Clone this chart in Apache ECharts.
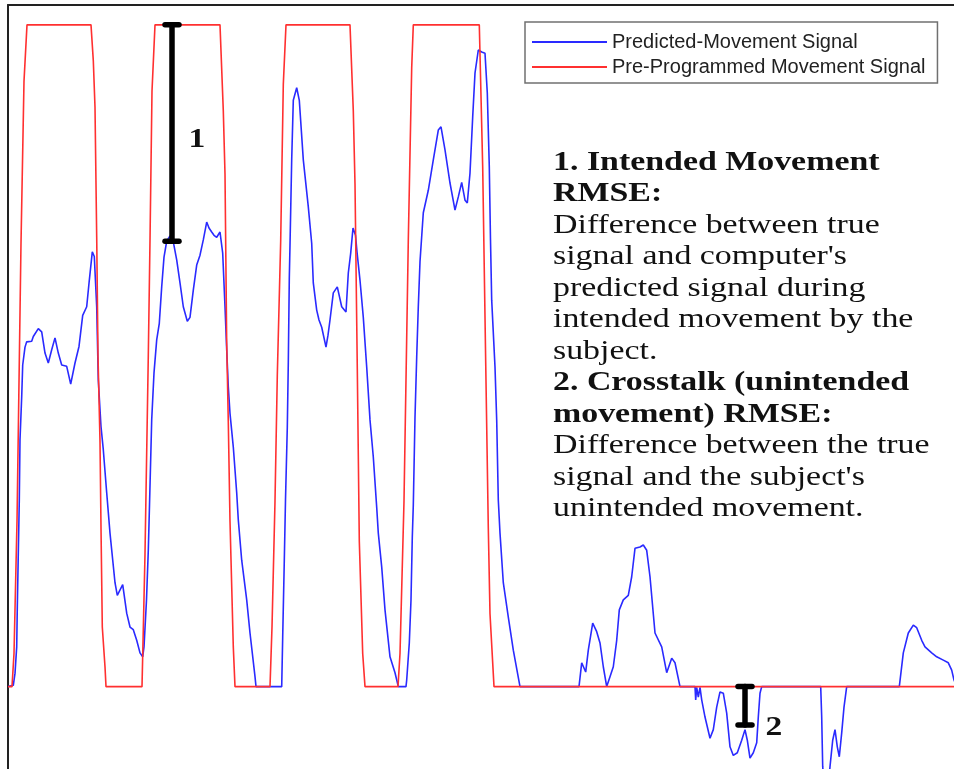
<!DOCTYPE html>
<html>
<head>
<meta charset="utf-8">
<script src="https://cdn.jsdelivr.net/npm/echarts@6/dist/echarts.min.js"></script>
<style>
  html, body { margin: 0; padding: 0; background: #fff; }
  #chart { width: 954px; height: 769px; }
</style>
</head>
<body>
<div id="chart"></div>
<script>
// ---- Data (time in samples, amplitude normalised: 0 = rest, 1 = full movement) ----
const seriesNames = ['Predicted-Movement Signal', 'Pre-Programmed Movement Signal'];

const predT = [0, 5.3, 7, 8.7, 9.3, 10.3, 11.3, 12, 13.7, 14.7, 17, 18.7, 23.7, 25.3, 30.3, 33.7, 37, 40.3, 43.7, 47,
  50.3, 53.7, 58.7, 62.7, 67, 71, 74.7, 78.7, 81.3, 84.3, 86.3, 88.7, 90.3, 93, 95.3, 98.7, 102, 107, 109.3, 114.7,
  118.7, 122, 125.3, 128.7, 132, 134.7, 136, 138.5, 140.3, 141.5, 143.7, 146, 148.7, 151.3, 153.7, 156, 158.7, 162, 165.3, 168.7,
  172, 175.3, 179.3, 182, 185.3, 188.7, 192, 195.3, 198.7, 201, 203.7, 206, 208.7, 212, 214.7, 217, 218.7, 220.3, 222, 225.3,
  228.7, 230.3, 233.7, 238.7, 242, 247, 248, 273.7, 274.7, 276.3, 277.5, 279.3, 280.3, 281.3, 282, 283.7, 285.3, 288.7, 291.3, 295.3,
  300.3, 303.7, 305.3, 308.7, 311, 313.7, 318, 320, 322, 325.3, 329.3, 333.7, 338, 340.3, 342.7, 345, 347.5, 349, 352, 355.3,
  358.7, 362, 365.3, 368.7, 370.3, 373.7, 377, 382, 387, 390.3, 398, 398.7, 401.3, 403, 404.3, 405.3, 407, 408.7, 410.3, 412,
  415.3, 420.3, 425.3, 430.3, 433, 437, 442, 447, 450.3, 453.7, 457, 459.3, 462, 464.7, 467, 470.3, 473.7, 477, 479.3, 481.3,
  482.5, 483.7, 487, 488.7, 490.3, 492, 495.3, 500.3, 505.3, 512, 571, 573.7, 575.3, 577.7, 580.3, 584.7, 588.7, 592, 595.3, 598.7,
  602, 605.3, 608.7, 611.3, 615.3, 620.3, 623.7, 627, 632, 635.3, 638.7, 642, 647, 653.7, 658.7, 663.7, 667, 672, 687, 687.7,
  688.7, 690.3, 692, 693.7, 697, 702, 705.3, 708.7, 712, 715.3, 718.7, 722, 725.3, 729.3, 733.7, 737, 739.3, 742, 745.3, 748.7,
  750.3, 752, 753.7, 812.7, 813.7, 814.7, 817, 820, 822, 824.7, 827, 829.3, 831.3, 833.7, 836, 838.7, 891.3, 895.3, 900.3, 905.3,
  908.7, 913.7, 917, 923.7, 928.7, 935.3, 940.3, 943.7, 946, 949];
const predV = [0, 0.002, 0.02, 0.06, 0.12, 0.202, 0.282, 0.373, 0.438, 0.486, 0.513, 0.521, 0.522, 0.529, 0.541, 0.536, 0.504, 0.489, 0.509, 0.527,
  0.504, 0.486, 0.484, 0.457, 0.489, 0.514, 0.561, 0.574, 0.614, 0.657, 0.650, 0.574, 0.463, 0.393, 0.358, 0.293, 0.232, 0.157, 0.138, 0.154,
  0.111, 0.090, 0.086, 0.070, 0.051, 0.045, 0.060, 0.131, 0.206, 0.274, 0.403, 0.474, 0.524, 0.549, 0.604, 0.649, 0.673, 0.681, 0.672, 0.645,
  0.610, 0.574, 0.552, 0.558, 0.599, 0.637, 0.652, 0.675, 0.702, 0.693, 0.687, 0.682, 0.679, 0.687, 0.655, 0.574, 0.509, 0.453, 0.413, 0.362,
  0.293, 0.252, 0.191, 0.131, 0.081, 0.015, 0, 0, 0.075, 0.191, 0.282, 0.392, 0.489, 0.617, 0.667, 0.796, 0.886, 0.905, 0.886, 0.796,
  0.725, 0.670, 0.610, 0.569, 0.554, 0.543, 0.513, 0.531, 0.554, 0.595, 0.604, 0.574, 0.566, 0.625, 0.655, 0.693, 0.682, 0.657, 0.614, 0.558,
  0.483, 0.403, 0.347, 0.271, 0.232, 0.181, 0.116, 0.045, 0.021, 0, 0, 0.010, 0.066, 0.131, 0.226, 0.274, 0.407, 0.498, 0.574, 0.642,
  0.716, 0.750, 0.796, 0.841, 0.846, 0.811, 0.761, 0.720, 0.740, 0.762, 0.735, 0.731, 0.776, 0.861, 0.927, 0.962, 0.959, 0.957, 0.897, 0.785,
  0.675, 0.584, 0.483, 0.403, 0.282, 0.232, 0.157, 0.105, 0.055, 0, 0, 0.036, 0.036, 0.022, 0.055, 0.096, 0.083, 0.066, 0.030, 0,
  0.015, 0.030, 0.070, 0.116, 0.131, 0.138, 0.166, 0.209, 0.211, 0.214, 0.206, 0.166, 0.081, 0.060, 0.021, 0.043, 0.036, 0, 0, -0.020,
  -0.001, -0.016, -0.001, -0.020, -0.046, -0.078, -0.065, -0.031, -0.008, -0.010, -0.040, -0.091, -0.104, -0.100, -0.081, -0.065, -0.081, -0.108, -0.100, -0.085,
  -0.046, -0.010, 0, 0, -0.046, -0.121, -0.160, -0.158, -0.121, -0.081, -0.065, -0.091, -0.106, -0.070, -0.031, 0, 0, 0.051, 0.081, 0.093,
  0.089, 0.070, 0.060, 0.051, 0.045, 0.040, 0.036, 0.025, 0.010, 0];

const progT = [0, 4, 6, 9, 13, 16, 19, 83, 85.3, 87, 88.7, 90, 92, 93, 94.3, 97, 98,
  134, 137, 140.3, 142, 144, 147, 212, 215.3, 217, 218.7, 220.3, 222, 225.3, 227,
  262, 264, 267, 269.3, 272.7, 275.3, 278, 342, 345.3, 347, 349.3, 351.3, 354.7, 357,
  390, 392, 396, 400.3, 403.7, 405.3, 471.3, 474.7, 477.7, 480.3, 482, 486, 946];
const progV = [0, 0, 0.05, 0.25, 0.67, 0.915, 1, 1, 0.946, 0.876, 0.68, 0.5, 0.37, 0.24, 0.09, 0.03, 0,
  0, 0.2, 0.5, 0.674, 0.9, 1, 1, 0.87, 0.775, 0.52, 0.4, 0.25, 0.06, 0,
  0, 0.09, 0.28, 0.47, 0.674, 0.91, 1, 1, 0.87, 0.76, 0.48, 0.22, 0.05, 0,
  0, 0.05, 0.28, 0.674, 0.935, 1, 1, 0.785, 0.49, 0.24, 0.11, 0, 0];

// RMSE annotation bars
const errX = [164, 737];
const errHigh = [1, 0];
const errLow = [0.673, -0.058];
const errLabels = ['1', '2'];
const errLabelX = [189, 766];
const errLabelY = [0.827, -0.062];

// Explanatory text
const noteLines = [
  ['1. Intended Movement', true],
  ['RMSE:', true],
  ['Difference between true', false],
  ["signal and computer's", false],
  ['predicted signal during', false],
  ['intended movement by the', false],
  ['subject.', false],
  ['2. Crosstalk (unintended', true],
  ['movement) RMSE:', true],
  ['Difference between the true', false],
  ["signal and the subject's", false],
  ['unintended movement.', false]
];

// ---- Chart ----
const SERIF = '"Liberation Serif", "Times New Roman", serif';
const SANS = '"Liberation Sans", Arial, sans-serif';
const chart = echarts.init(document.getElementById('chart'), null, { renderer: 'canvas' });

const noteGraphics = noteLines.map(function (l, i) {
  return {
    type: 'text',
    x: 553,
    y: 162.5 + 31.5 * i,
    scaleX: 1.21,
    z: 10,
    style: {
      text: l[0],
      x: 0, y: 0,
      fill: '#111',
      font: (l[1] ? 'bold ' : '') + '28px ' + SERIF,
      textAlign: 'left',
      textVerticalAlign: 'middle'
    }
  };
});

const errData = errX.map(function (x, i) { return [x, errHigh[i], errLow[i], errLabelX[i], errLabelY[i]]; });

const frameLine = { show: true, onZero: false, lineStyle: { color: '#222', width: 2 } };

chart.setOption({
  animation: false,
  backgroundColor: '#fff',
  grid: { left: 8, top: 5, right: 0, bottom: 0, show: false },
  xAxis: {
    type: 'value', min: 0, max: 946, position: 'top',
    axisLine: frameLine, axisTick: { show: false }, axisLabel: { show: false }, splitLine: { show: false }
  },
  yAxis: {
    type: 'value', min: -0.1245, max: 1.03, position: 'left',
    axisLine: frameLine, axisTick: { show: false }, axisLabel: { show: false }, splitLine: { show: false }
  },
  legend: {
    data: seriesNames,
    orient: 'vertical',
    left: 525, top: 22,
    itemWidth: 75, itemHeight: 2, itemGap: 5,
    icon: 'rect',
    padding: [10, 12, 6, 7],
    borderColor: '#707070', borderWidth: 1.5,
    backgroundColor: '#fff',
    selectedMode: false,
    textStyle: { fontFamily: SANS, fontSize: 20, color: '#222', lineHeight: 20 }
  },
  graphic: noteGraphics,
  series: [
    {
      name: seriesNames[0], type: 'line',
      data: predT.map(function (t, i) { return [t, predV[i]]; }),
      showSymbol: false, symbol: 'none',
      color: '#2a2aff',
      lineStyle: { width: 1.6, color: '#2a2aff' },
      z: 2
    },
    {
      name: seriesNames[1], type: 'line',
      data: progT.map(function (t, i) { return [t, progV[i]]; }),
      showSymbol: false, symbol: 'none',
      color: '#ff3030',
      lineStyle: { width: 1.6, color: '#ff3030' },
      z: 3
    },
    {
      name: 'RMSE bars', type: 'custom', z: 5,
      data: errData,
      renderItem: function (params, api) {
        const x = api.value(0);
        const p1 = api.coord([x, api.value(1)]);
        const p2 = api.coord([x, api.value(2)]);
        const pl = api.coord([api.value(3), api.value(4)]);
        const cap = 7;
        const st = { stroke: '#000', lineWidth: 5.5, lineCap: 'round' };
        return {
          type: 'group',
          children: [
            { type: 'line', shape: { x1: p1[0], y1: p1[1], x2: p2[0], y2: p2[1] }, style: st },
            { type: 'line', shape: { x1: p1[0] - cap, y1: p1[1], x2: p1[0] + cap, y2: p1[1] }, style: st },
            { type: 'line', shape: { x1: p2[0] - cap, y1: p2[1], x2: p2[0] + cap, y2: p2[1] }, style: st },
            {
              type: 'text', x: pl[0], y: pl[1], scaleX: 1.2,
              style: {
                text: errLabels[params.dataIndex], x: 0, y: 0,
                fill: '#111', font: 'bold 28px ' + SERIF,
                textAlign: 'center', textVerticalAlign: 'middle'
              }
            }
          ]
        };
      }
    }
  ]
});
</script>
</body>
</html>
